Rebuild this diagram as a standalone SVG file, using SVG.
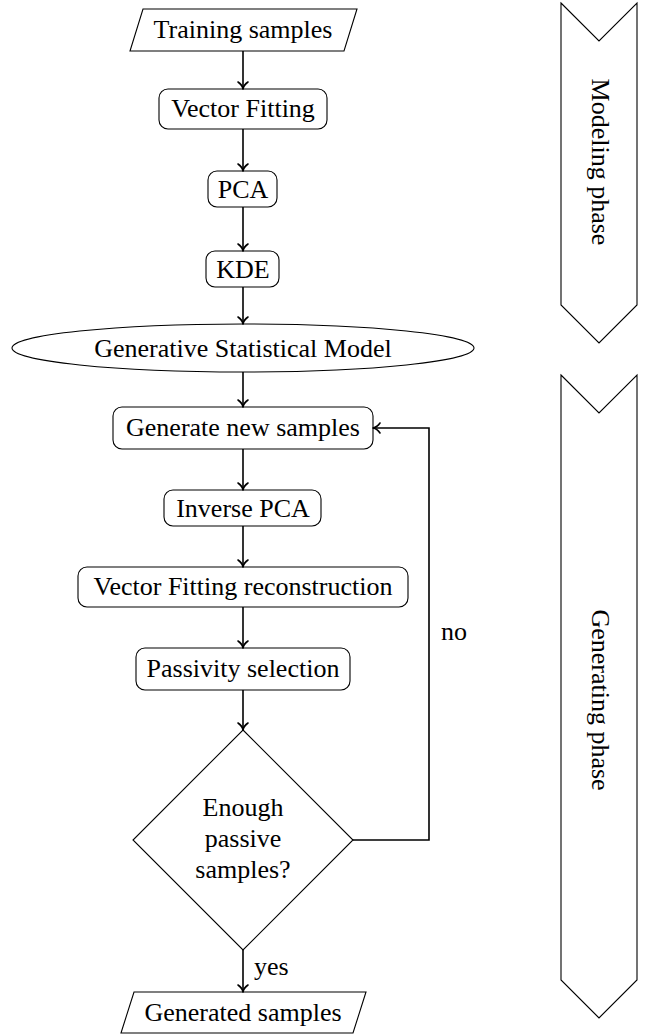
<svg xmlns="http://www.w3.org/2000/svg" width="652" height="1036" viewBox="0 0 652 1036">
<style>
  .box{fill:#fff;stroke:#000;stroke-width:1.1}
  text{font-family:'Liberation Serif','DejaVu Serif',serif;font-size:26px;fill:#000}
  .t{text-anchor:middle}
  .edge{fill:none;stroke:#000;stroke-width:1.6}
</style>
<defs>
  <marker id="arr" markerUnits="userSpaceOnUse" markerWidth="16" markerHeight="16" viewBox="-10 -8 12 16" refX="0" refY="0" orient="auto">
    <path d="M-7,-5 C-5,-2 -2,-0.4 0,0 C-2,0.4 -5,2 -7,5" fill="none" stroke="#000" stroke-width="1.6" stroke-linecap="round" stroke-linejoin="round"/>
  </marker>
</defs>
<rect width="652" height="1036" fill="#fff"/>

<g id="phase-modeling">
  <polygon class="box" points="561,3 599,41 637,3 637,305 599,343 561,305"/>
  <text class="t" font-family="Liberation Serif" transform="translate(592,162) rotate(90)">Modeling phase</text>
</g>
<g id="phase-generating">
  <polygon class="box" points="561,375 599,413 637,375 637,980 599,1018 561,980"/>
  <text class="t" font-family="Liberation Serif" transform="translate(592,700) rotate(90)">Generating phase</text>
</g>

<g id="n-training">
  <polygon class="box" points="143,9 357,9 344,51 130,51"/>
  <text class="t" x="243" y="38">Training samples</text>
</g>
<g id="n-vf">
  <rect class="box" x="159" y="89" width="168" height="40" rx="9"/>
  <text class="t" x="243" y="117">Vector Fitting</text>
</g>
<g id="n-pca">
  <rect class="box" x="208" y="171" width="69" height="36" rx="9"/>
  <text class="t" x="243" y="198">PCA</text>
</g>
<g id="n-kde">
  <rect class="box" x="206" y="251" width="73" height="36" rx="9"/>
  <text class="t" x="243" y="278">KDE</text>
</g>
<g id="n-model">
  <ellipse class="box" cx="243" cy="348" rx="231" ry="24"/>
  <text class="t" x="243" y="357">Generative Statistical Model</text>
</g>
<g id="n-gen">
  <rect class="box" x="113" y="407" width="260" height="42" rx="9"/>
  <text class="t" x="243" y="436">Generate new samples</text>
</g>
<g id="n-ipca">
  <rect class="box" x="164" y="490" width="157" height="36" rx="9"/>
  <text class="t" x="243" y="517">Inverse PCA</text>
</g>
<g id="n-vfr">
  <rect class="box" x="78" y="567" width="330" height="40" rx="9"/>
  <text class="t" x="243" y="595">Vector Fitting reconstruction</text>
</g>
<g id="n-pass">
  <rect class="box" x="136" y="648" width="214" height="42" rx="9"/>
  <text class="t" x="243" y="677">Passivity selection</text>
</g>
<g id="n-dec">
  <polygon class="box" points="243,730 353,840 243,950 133,840"/>
  <text class="t" x="243" y="816">Enough</text>
  <text class="t" x="243" y="847">passive</text>
  <text class="t" x="243" y="878">samples?</text>
</g>
<g id="n-out">
  <polygon class="box" points="134,992 366,992 353,1033 121,1033"/>
  <text class="t" x="243" y="1021">Generated samples</text>
</g>

<g id="connectors">
  <path class="edge" marker-end="url(#arr)" d="M243,51 V89"/>
  <path class="edge" marker-end="url(#arr)" d="M243,129 V171"/>
  <path class="edge" marker-end="url(#arr)" d="M243,207 V251"/>
  <path class="edge" marker-end="url(#arr)" d="M243,287 V324"/>
  <path class="edge" marker-end="url(#arr)" d="M243,372 V407"/>
  <path class="edge" marker-end="url(#arr)" d="M243,449 V490"/>
  <path class="edge" marker-end="url(#arr)" d="M243,526 V567"/>
  <path class="edge" marker-end="url(#arr)" d="M243,607 V648"/>
  <path class="edge" marker-end="url(#arr)" d="M243,690 V730"/>
  <path class="edge" marker-end="url(#arr)" d="M243,950 V992"/>
  <path class="edge" marker-end="url(#arr)" d="M353,840 H429 V428 H373"/>
  <text x="254" y="975">yes</text>
  <text x="441" y="640">no</text>
</g>
</svg>
